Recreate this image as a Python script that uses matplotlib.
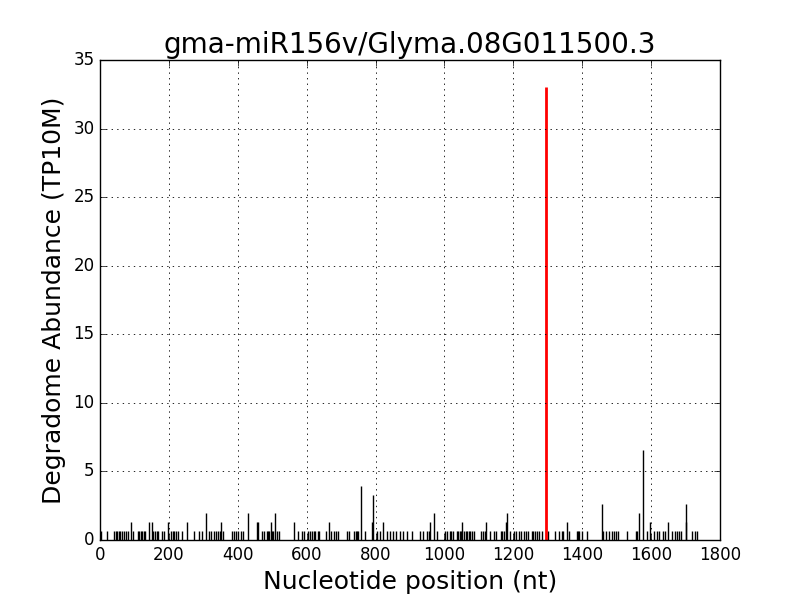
import matplotlib
matplotlib.use("Agg")
import matplotlib.pyplot as plt
import numpy as np

plt.style.use("classic")

title = "gma-miR156v/Glyma.08G011500.3"
xlabel = "Nucleotide position (nt)"
ylabel = "Degradome Abundance (TP10M)"

unit = 0.656  # abundance of one read (TP10M)

positions = [3, 19, 41, 46, 50, 55, 58, 65, 70, 75, 81, 90, 97, 110, 114, 118, 122, 127, 131,
             142, 150, 155, 160, 165, 169, 179, 187, 197, 206, 211, 216, 222, 227, 239, 252,
             272, 288, 296, 308, 315, 322, 330, 336, 342, 348, 351, 357, 384, 390, 396, 402,
             408, 416, 431, 457, 460, 471, 476, 484, 488, 492, 495, 499, 502, 509, 515, 521,
             563, 576, 586, 592, 605, 610, 615, 620, 625, 632, 637, 656, 664, 672, 678, 685,
             692, 716, 724, 737, 742, 746, 750, 758, 770, 789, 794, 803, 812, 822, 832, 841,
             851, 860, 870, 880, 890, 907, 930, 939, 950, 955, 958, 971, 979, 1002, 1008, 1015,
             1020, 1024, 1036, 1040, 1045, 1048, 1052, 1058, 1062, 1066, 1070, 1075, 1080, 1085,
             1106, 1112, 1118, 1121, 1132, 1144, 1151, 1163, 1168, 1173, 1178, 1183, 1190, 1202,
             1208, 1215, 1222, 1232, 1238, 1244, 1253, 1258, 1263, 1268, 1275, 1282, 1302, 1321,
             1332, 1340, 1345, 1357, 1362, 1384, 1388, 1392, 1398, 1414, 1458, 1461, 1470, 1478,
             1486, 1492, 1498, 1504, 1529, 1556, 1560, 1565, 1577, 1589, 1597, 1608, 1618, 1622,
             1635, 1640, 1650, 1660, 1670, 1675, 1680, 1688, 1700, 1702, 1718, 1726, 1732]

reads = [1, 1, 1, 1, 1, 1, 1, 1, 1, 1, 1, 2, 1, 1, 1, 1, 1, 1, 1,
         2, 2, 1, 1, 1, 1, 1, 1, 2, 1, 1, 1, 1, 1, 1, 2,
         1, 1, 1, 3, 1, 1, 1, 1, 1, 1, 2, 1, 1, 1, 1, 1,
         1, 1, 3, 2, 2, 1, 1, 1, 1, 1, 2, 1, 1, 3, 1, 1,
         2, 1, 1, 1, 1, 1, 1, 1, 1, 1, 1, 1, 2, 1, 1, 1,
         1, 1, 1, 1, 1, 1, 1, 6, 1, 2, 5, 1, 1, 2, 1, 1,
         1, 1, 1, 1, 1, 1, 1, 1, 1, 1, 2, 3, 1, 1, 1, 1,
         1, 1, 1, 1, 1, 1, 2, 1, 1, 1, 1, 1, 1, 1,
         1, 1, 1, 2, 1, 1, 1, 1, 1, 1, 2, 3, 1, 1,
         1, 1, 1, 1, 1, 1, 1, 1, 1, 1, 1, 1, 1, 1,
         1, 1, 1, 2, 1, 1, 1, 1, 1, 1, 4, 1, 1, 1,
         1, 1, 1, 1, 1, 1, 1, 3, 10, 1, 2, 1, 1, 1,
         1, 1, 2, 1, 1, 1, 1, 1, 4, 2, 1, 1, 1]

target_pos = [1295]
target_abundance = [33.0]

abundance = np.array(reads) * unit

fig = plt.figure(figsize=(8, 6), dpi=100, facecolor="white")
ax = fig.add_subplot(111)
ax.vlines(positions, 0, abundance, colors="black", linewidth=1)
ax.vlines(target_pos, 0, target_abundance, colors="red", linewidth=2)

ax.set_xlim(0, 1800)
ax.set_ylim(0, 35)
ax.set_xticks(np.arange(0, 1801, 200))
ax.set_yticks(np.arange(0, 36, 5))
ax.grid(True, color="black", linestyle=":", linewidth=0.6)
ax.set_title(title, fontsize=20)
ax.set_xlabel(xlabel, fontsize=18)
ax.set_ylabel(ylabel, fontsize=18)
ax.tick_params(labelsize=12)

fig.savefig("out.png", dpi=100, facecolor="white")
